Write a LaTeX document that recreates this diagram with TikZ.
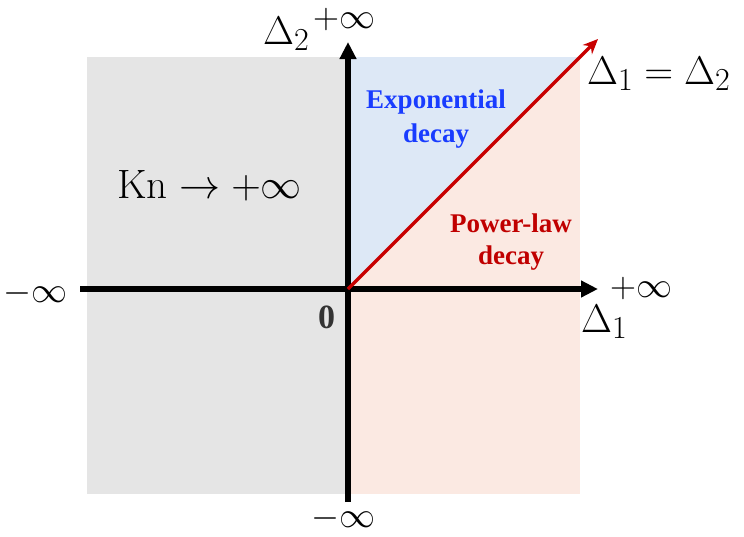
\RequirePackage{fix-cm}
\documentclass[tikz,border=0pt]{standalone}
\usepackage{fontspec}
\newfontfamily\tnr{Liberation Serif}
\usetikzlibrary{arrows.meta}
\DeclareMathSizes{40}{40}{32}{24}
\DeclareMathSizes{36}{36}{28}{21}
\DeclareMathSizes{41}{41}{29}{21}
\definecolor{grayreg}{RGB}{229,229,229}
\definecolor{bluereg}{RGB}{221,232,246}
\definecolor{pinkreg}{RGB}{251,233,226}
\definecolor{redline}{RGB}{200,0,0}
\definecolor{bluetxt}{RGB}{25,60,255}
\definecolor{redtxt}{RGB}{192,0,0}
\begin{document}
\begin{tikzpicture}[x=1pt,y=-1pt,
  mathlbl/.style={inner sep=0pt, anchor=base west, font=\fontsize{40}{46}\selectfont},
  inflbl/.style={inner sep=0pt, anchor=base west, font=\fontsize{36}{42}\selectfont},
  regionlbl/.style={inner sep=0pt, anchor=base, font=\tnr\bfseries\fontsize{27}{33}\selectfont},
  axisline/.style={line width=5.5pt, -{Triangle[length=17pt,width=16pt]}},
  diagline/.style={redline, line width=3.5pt, -{Stealth[length=15pt,width=13pt]}}]
\useasboundingbox (0,0) rectangle (744,536);
\coordinate (O) at (348,289);
\coordinate (xl) at (80,289);
\coordinate (xr) at (598,289);
\coordinate (yb) at (348,502);
\coordinate (yt) at (348,42);
\coordinate (dt) at (598,39);
% regions
\fill[grayreg] (87,57) rectangle (348,494);
\fill[pinkreg] (348,57) rectangle (580,494);
\fill[bluereg] (O) -- (348,57) -- (580,57) -- cycle;
% axes
\draw[axisline] (xl) -- (xr);
\draw[axisline] (yb) -- (yt);
\draw[diagline] (O) -- (dt);
% labels
\node[mathlbl] (d2) at (263,44) {$\Delta_2$};
\node[inflbl] (ytop) at (313,28) {$+\infty$};
\node[mathlbl] (diag) at (587,84) {$\Delta_1=\Delta_2$};
\node[inflbl] (xinf) at (610,297) {$+\infty$};
\node[mathlbl] (d1) at (581,332) {$\Delta_1$};
\node[inflbl] (xminf) at (3,302) {$-\infty$};
\node[inflbl] (yminf) at (311,527) {$-\infty$};
\node[inner sep=0pt, anchor=base west, font=\tnr\bfseries\fontsize{34}{40}\selectfont, text=black!80] (zero) at (318,328) {0};
\node[inner sep=0pt, anchor=base west, font=\fontsize{41}{47}\selectfont] (kn) at (117,198) {$\mathrm{Kn}\to+\infty$};
\node[regionlbl, text=bluetxt] (exp1) at (436,108) {Exponential};
\node[regionlbl, text=bluetxt] (exp2) at (436,142) {decay};
\node[regionlbl, text=redtxt] (pow1) at (511,232) {Power-law};
\node[regionlbl, text=redtxt] (pow2) at (511,264) {decay};
\end{tikzpicture}
\end{document}
